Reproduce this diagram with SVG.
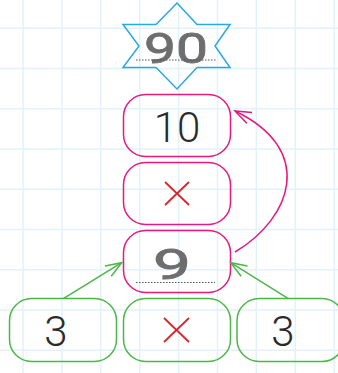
<svg xmlns="http://www.w3.org/2000/svg" width="338" height="373" viewBox="0 0 338 373">
<style>
.grid line{stroke:#e2f2fa;stroke-width:1.5}
.pk{fill:none;stroke:#e5197e;stroke-width:1.5}
.gr{fill:none;stroke:#4cb649;stroke-width:1.5}
.num{font-family:Roboto,"Liberation Sans",sans-serif;font-weight:300;font-size:42px;fill:#2b2b2b;text-anchor:middle}
.hw{font-family:Roboto,"Liberation Sans",sans-serif;font-weight:400;font-size:42px;fill:#6e6e6e;stroke:#6e6e6e;stroke-width:0.8;text-anchor:middle}
.x{stroke:#d8262b;stroke-width:1.8}
.dot{stroke:#555;stroke-width:1.2;stroke-dasharray:1.5 1.5}
</style>
<defs>
<marker id="ag" markerUnits="userSpaceOnUse" viewBox="-1 -8 19 16" markerWidth="19" markerHeight="16" refX="16" refY="0" orient="auto">
<path d="M0,-6 L16,0 L0,6" fill="none" stroke="#4cb649" stroke-width="1.5"/>
</marker>
<marker id="ap" markerUnits="userSpaceOnUse" viewBox="-1 -8 19 16" markerWidth="19" markerHeight="16" refX="16" refY="0" orient="auto">
<path d="M0,-6 L16,0 L0,6" fill="none" stroke="#e5197e" stroke-width="1.5"/>
</marker>
</defs>
<rect width="338" height="373" fill="#fff"/>
<g class="grid">
<line x1="23" y1="0" x2="23" y2="373"/><line x1="61.9" y1="0" x2="61.9" y2="373"/><line x1="100.8" y1="0" x2="100.8" y2="373"/><line x1="139.7" y1="0" x2="139.7" y2="373"/><line x1="178.6" y1="0" x2="178.6" y2="373"/><line x1="217.5" y1="0" x2="217.5" y2="373"/><line x1="256.4" y1="0" x2="256.4" y2="373"/><line x1="295.3" y1="0" x2="295.3" y2="373"/><line x1="334.2" y1="0" x2="334.2" y2="373"/>
<line x1="0" y1="28.3" x2="338" y2="28.3"/><line x1="0" y1="68.55" x2="338" y2="68.55"/><line x1="0" y1="108.8" x2="338" y2="108.8"/><line x1="0" y1="149.05" x2="338" y2="149.05"/><line x1="0" y1="189.3" x2="338" y2="189.3"/><line x1="0" y1="229.55" x2="338" y2="229.55"/><line x1="0" y1="269.8" x2="338" y2="269.8"/><line x1="0" y1="310.05" x2="338" y2="310.05"/><line x1="0" y1="350.3" x2="338" y2="350.3"/>
</g>
<g id="star">
<polygon points="177,3 197,24.5 230,24.5 215,46 230,67.5 197,67.5 177,89 156,67.5 123,67.5 139,46 123,24.5 156,24.5" fill="none" stroke="#29a9e1" stroke-width="1.5"/>
<text class="hw" x="176" y="63" textLength="64" lengthAdjust="spacingAndGlyphs">90</text>
<line class="dot" x1="136" y1="60" x2="216" y2="60"/>
</g>
<g id="box10">
<rect class="pk" x="123.5" y="94.5" width="107" height="62" rx="22"/>
<text class="num" x="177" y="142">10</text>
</g>
<g id="boxTimes1">
<rect class="pk" x="123.5" y="162.5" width="107" height="62" rx="22"/>
<line class="x" x1="165" y1="182" x2="189" y2="205"/><line class="x" x1="189" y1="182" x2="165" y2="205"/>
</g>
<g id="box9">
<rect class="pk" x="123.5" y="230.5" width="107" height="62" rx="22"/>
<text class="hw" x="172" y="279" textLength="38" lengthAdjust="spacingAndGlyphs">9</text>
<line class="dot" x1="136" y1="282.5" x2="215" y2="282.5"/>
</g>
<g id="box3a">
<rect class="gr" x="9.5" y="298.5" width="107" height="63" rx="22"/>
<text class="num" x="56" y="346">3</text>
</g>
<g id="boxTimes2">
<rect class="gr" x="123.5" y="298.5" width="107" height="63" rx="22"/>
<line class="x" x1="164" y1="318" x2="189" y2="342"/><line class="x" x1="189" y1="318" x2="164" y2="342"/>
</g>
<g id="box3b">
<rect class="gr" x="237" y="298.5" width="107" height="63" rx="22"/>
<text class="num" x="283" y="346">3</text>
</g>
<g id="connectors">
<line x1="63.3" y1="298.7" x2="121.7" y2="262.7" stroke="#4cb649" stroke-width="1.5" marker-end="url(#ag)"/>
<line x1="288.3" y1="298.7" x2="230.7" y2="262.7" stroke="#4cb649" stroke-width="1.5" marker-end="url(#ag)"/>
<path d="M235,252 C292,218 316,150 235,111" fill="none" stroke="#e5197e" stroke-width="1.5" marker-end="url(#ap)"/>
</g>
</svg>
